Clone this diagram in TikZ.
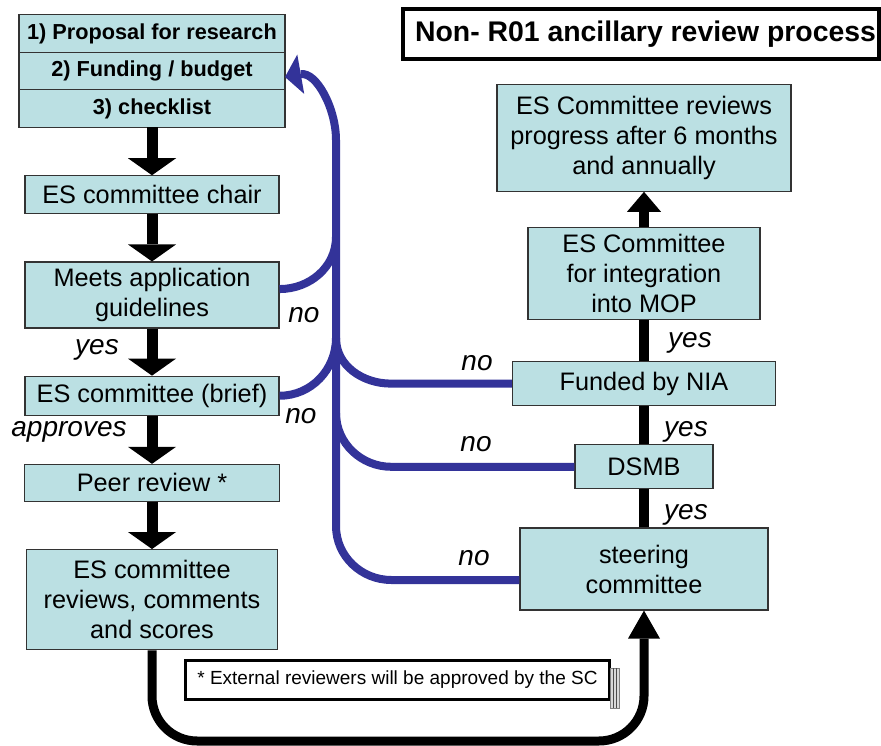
\documentclass[tikz,border=0pt]{standalone}
\usepackage{fontspec}
\setmainfont{Liberation Sans}
\usetikzlibrary{arrows.meta, positioning}
\definecolor{boxfill}{HTML}{BBE0E3}
\definecolor{noblue}{HTML}{333399}
\definecolor{edgegray}{HTML}{333333}

\begin{document}
\begin{tikzpicture}[x=1pt, y=1pt, every node/.style={font=\fontsize{25.3}{30}\selectfont}]

\tikzset{
  stepbox/.style={rectangle, draw=edgegray, line width=1.2pt, fill=boxfill,
    align=center, inner sep=2pt},
  stackbox/.style={stepbox, outer sep=0pt, minimum width=266pt, minimum height=37.5pt,
    font=\fontsize{21.7}{25}\selectfont\bfseries},
  fatarrow/.style={line width=11pt, -{Triangle[width=48pt, length=17pt, line width=0pt]}},
  yesline/.style={line width=10pt},
  noline/.style={noblue, line width=8pt},
  answer/.style={font=\fontsize{28}{32}\selectfont\itshape, inner sep=1pt},
}

\useasboundingbox (0,0) rectangle (881,-746);

% ---- left: submission track ----
\node[stackbox] (prop) at (152,-33.5) {1) Proposal for research};
\node[stackbox, below=0mm of prop]  (fund)  {2) Funding / budget};
\node[stackbox, below=0mm of fund]  (check) {3) checklist};
\node[stepbox, minimum width=254pt, minimum height=38pt, below=48pt of check] (chair) {ES committee chair};
\node[stepbox, minimum width=254pt, minimum height=66pt, below=47pt of chair] (meets) {Meets application\\guidelines};
\node[stepbox, minimum width=254pt, minimum height=39pt, below=47pt of meets] (brief) {ES committee (brief)};
\node[stepbox, minimum width=255pt, minimum height=37pt, below=48pt of brief] (peer)  {Peer review *};
\node[stepbox, minimum width=251pt, minimum height=100pt, below=47pt of peer] (scores) {ES committee\\reviews, comments\\and scores};

\draw[fatarrow] (check) -- (chair);
\draw[fatarrow] (chair) -- (meets);
\draw[fatarrow] (meets) -- (brief);
\draw[fatarrow] (brief) -- (peer);
\draw[fatarrow] (peer) -- (scores);

\node[answer] (yes1) at (97,-350) {yes};
\node[answer] (approve) at (69,-432) {approves};

% ---- right: approval track ----
\node[stepbox, minimum width=248pt, minimum height=82pt] (steer) at (644,-569) {steering\\committee};
\node[stepbox, minimum width=138pt, minimum height=44pt, above=38pt of steer] (dsmb) {DSMB};
\node[stepbox, minimum width=263pt, minimum height=44pt, above=38pt of dsmb] (nia) {Funded by NIA};
\node[stepbox, minimum width=232pt, minimum height=92pt, above=41pt of nia] (mop) {ES Committee\\for integration\\into MOP};
\node[stepbox, minimum width=294pt, minimum height=107pt, above=35pt of mop] (review) {ES Committee reviews\\progress after 6 months\\and annually};

\draw[yesline] (steer) -- (dsmb);
\draw[yesline] (dsmb) -- (nia);
\draw[yesline] (nia) -- (mop);
\draw[yesline, -{Triangle[width=34pt, length=20pt, line width=0pt]}] (mop) -- (review);

\node[answer] (yes2) at (690,-343) {yes};
\node[answer] (yes3) at (686,-432) {yes};
\node[answer] (yes4) at (686,-515) {yes};

% ---- title and footnote ----
\node[draw, line width=4pt, inner sep=2pt, minimum width=476pt, minimum height=50pt,
  font=\fontsize{28.4}{32}\selectfont\bfseries] (title) at (641,-34) {\hspace*{9pt}Non- R01 ancillary review process};
\node[draw, fill=white, line width=3pt, minimum width=424pt, minimum height=39pt,
  font=\fontsize{19}{22}\selectfont] (note) at (397.5,-680) {* External reviewers will be approved by the SC};
\draw[gray, fill=gray!30] (610,-668) rectangle (619,-708);
\draw[gray!60!black] (613,-668) -- (613,-708) (616,-668) -- (616,-708);

% return from scores to steering committee
\coordinate (low) at (0,-741);
\draw[line width=9pt, rounded corners=45pt, -{Triangle[width=32pt, length=28pt, line width=0pt]}]
  (scores.south) -- (scores.south |- low) -| (steer.south);

% ---- "no" returns to funding ----
\coordinate (jtop)   at (336,-140);
\coordinate (jmeets) at (336,-237);
\coordinate (jmid)   at (336,-338);
\coordinate (jdsmb)  at (336,-413);
\coordinate (jsteer) at (336,-526);
\draw[noline] ([yshift=-11pt]steer.west) -- ++(-128,0) to[out=180,in=-90] (jsteer) -- (jdsmb);
\draw[noline] (dsmb.west) -- ++(-183,0) to[out=180,in=-90] (jdsmb) -- (jmid);
\draw[noline] (nia.west) -- ++(-121,0) to[out=180,in=-90] (jmid);
\draw[noline] (brief.east) to[out=0,in=-90] (jmid);
\draw[noline] ([yshift=6pt]meets.east) to[out=0,in=-90] (jmeets);
\draw[noline, -{Triangle[width=40pt, length=16pt, line width=0pt]}]
  (jmid) -- (jtop) to[out=90,in=10] ([yshift=-6pt]fund.east);

\node[answer] (no1) at (304,-315) {no};
\node[answer] (no2) at (301,-416) {no};
\node[answer] (no3) at (477,-363) {no};
\node[answer] (no4) at (476,-444) {no};
\node[answer] (no5) at (474,-558) {no};

\end{tikzpicture}
\end{document}
